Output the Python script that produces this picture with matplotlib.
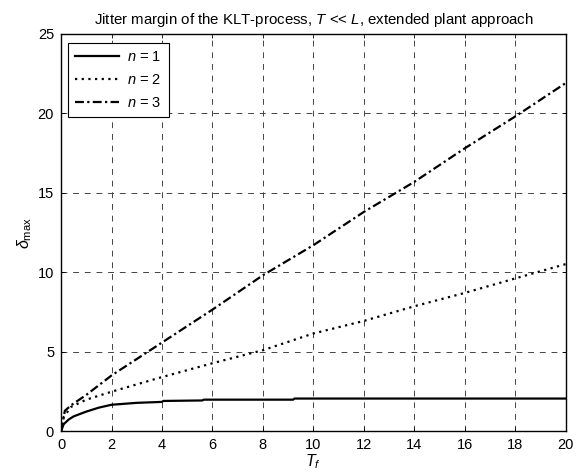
import matplotlib
matplotlib.use("Agg")
import matplotlib.pyplot as plt

# ── Data ──────────────────────────────────────────────────────────────────────

x_n1 = [0, 0.1, 0.3, 0.5, 1.0, 1.5, 2.0, 3.0, 4.0, 4.05, 5.6, 5.65, 9.2, 9.25, 20]
y_n1 = [0, 0.45, 0.75, 0.95, 1.25, 1.5, 1.68, 1.8, 1.86, 1.92, 1.95, 2.0, 2.0, 2.07, 2.07]

x_n2 = [0, 0.1, 0.4, 1.0, 2.0, 4.0, 6.0, 8.0, 10.0, 12.0, 14.0, 16.0, 18.0, 20.0]
y_n2 = [0, 0.9, 1.55, 2.0, 2.5, 3.42, 4.29, 5.11, 6.16, 6.95, 7.87, 8.71, 9.62, 10.52]

x_n3 = [0, 0.15, 0.4, 1.0, 2.0, 4.0, 6.0, 8.0, 10.0, 12.0, 14.0, 16.0, 18.0, 20.0]
y_n3 = [0, 1.3, 1.65, 2.3, 3.52, 5.59, 7.66, 9.82, 11.71, 13.8, 15.69, 17.8, 19.8, 21.9]

labels = ["$n$ = 1", "$n$ = 2", "$n$ = 3"]
x_ticks = list(range(0, 21, 2))
y_ticks = list(range(0, 26, 5))

# ── Style ─────────────────────────────────────────────────────────────────────

plt.rcParams.update({
    "font.family": "Liberation Sans",
    "mathtext.fontset": "custom",
    "mathtext.rm": "Liberation Sans",
    "mathtext.it": "Liberation Sans:italic",
    "mathtext.bf": "Liberation Sans:bold",
    "font.size": 10,
    "xtick.direction": "in",
    "ytick.direction": "in",
    "xtick.top": True,
    "ytick.right": True,
})

fig = plt.figure(figsize=(5.76, 4.74), dpi=100)
ax = fig.add_axes([0.106, 0.0897, 0.876, 0.839])

ax.plot(x_n1, y_n1, color="black", linestyle="-", linewidth=1.6, label=labels[0])
ax.plot(x_n2, y_n2, color="black", linestyle=(0, (1, 2)), linewidth=1.6, label=labels[1])
ax.plot(x_n3, y_n3, color="black", linestyle=(0, (4, 1.5, 1, 1.5)), linewidth=1.6,
        label=labels[2])

ax.set_xlim(0, 20)
ax.set_ylim(0, 25)
ax.set_xticks(x_ticks)
ax.set_yticks(y_ticks)
ax.tick_params(length=3, width=0.6, labelsize=10.5, pad=5)
ax.grid(True, color="#444444", linestyle=(0, (6, 6)), linewidth=0.7)
for sp in ax.spines.values():
    sp.set_linewidth(1.0)

ax.set_xlabel("$T_f$", fontsize=11.5, labelpad=0)
ax.set_ylabel(r"$\delta_{\mathrm{max}}$", fontsize=11.5, labelpad=3)
ax.set_title("Jitter margin of the KLT-process, $T$ << $L$, extended plant approach",
             fontsize=10.8, pad=7)

leg = ax.legend(loc="upper left", bbox_to_anchor=(0.013, 0.977), borderaxespad=0,
                fancybox=False, edgecolor="black", framealpha=1,
                fontsize=10.5, handlelength=3.0, handletextpad=0.6,
                labelspacing=0.6, borderpad=0.5)
leg.get_frame().set_linewidth(0.8)

fig.savefig("out.png", dpi=100)
